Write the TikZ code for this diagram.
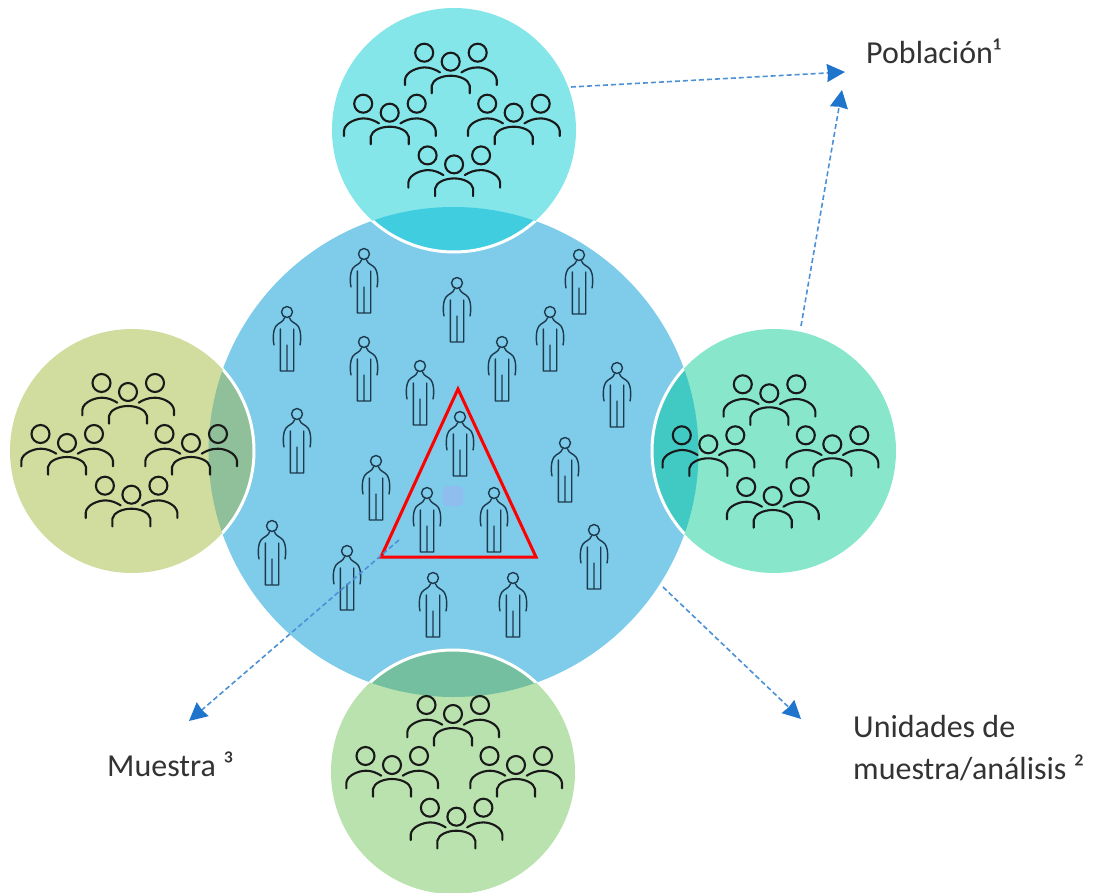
\documentclass[tikz,border=0pt]{standalone}
\usepackage{fontspec}
\usetikzlibrary{arrows.meta}
\setmainfont{Carlito}
\definecolor{bigblue}{HTML}{7FCBEA}
\definecolor{arrowblue}{HTML}{1F74CC}
\definecolor{figline}{HTML}{1D3A4C}
\definecolor{dotblue}{HTML}{8FBDF0}
\tikzset{
  smallcirc/.style={draw=white, line width=3pt},
  arrowline/.style={draw=arrowblue!80, line width=1.6pt, dash pattern=on 5pt off 3pt, -{Stealth[length=18pt, width=18pt, inset=1pt, color=arrowblue]}},
  lab/.style={font=\fontsize{32}{42}\selectfont, text=black!80, inner sep=0pt, anchor=base west, align=left},
  personfig/.pic={
    \draw[figline, line width=1.4pt, line cap=round, line join=round] (0, 0) circle (5.5)
      (-13, 33) .. controls (-14.5, 26) and (-13.5, 17) .. (-11, 14) .. controls (-9, 11) and (-4, 10.5) .. (-2.5, 6)
      (13, 33) .. controls (14.5, 26) and (13.5, 17) .. (11, 14) .. controls (9, 11) and (4, 10.5) .. (2.5, 6)
      (-6.7, 17) -- (-6.7, 59) -- (6.7, 59) -- (6.7, 17)
      (0, 33) -- (0, 59) ;
  },
  trio/.pic={
    \draw[black!90, line width=2.1pt, line cap=round] (0, 0) circle (9) (-26.5, -9) circle (9) (27, -9) circle (9)
      (-45.7, 23.3) -- (-45.7, 18) .. controls (-45, 10) and (-33, 5.7) .. (-26, 5.7) .. controls (-20, 5.7) and (-15, 8) .. (-10.7, 10.7)
      (-19, 31.7) -- (-19, 24) .. controls (-18, 18) and (-9, 14) .. (0, 14) .. controls (9, 14) and (18, 18) .. (19, 24) -- (19, 31.7)
      (10.7, 10.7) .. controls (15, 8) and (20, 5.7) .. (27, 5.7) .. controls (34, 5.7) and (45, 10) .. (46, 18) -- (46, 23.3) ;
  },
  crowd/.pic={
    \foreach \tx/\ty in {0/0, -61/51, 63/51, 3.4/102.7}
      \pic at (\tx, \ty) {trio} ;
  },
}
\begin{document}
\begin{tikzpicture}[x=1pt, y=-1pt]
  \useasboundingbox (0, 0) rectangle (1096, 893) ;
  % circles
  \coordinate (big) at (453.5, 452) ;
  \coordinate (top) at (454, 130) ;
  \coordinate (left) at (132, 451) ;
  \coordinate (right) at (774, 451) ;
  \coordinate (bottom) at (453, 772) ;
  \fill[bigblue] (big) circle (245) ;
  \foreach \c/\pale/\dark in {top/85E6EA/40CDE0, left/D1DD9E/8FC09A, right/88E6CB/41C9C3, bottom/B9E2AE/73BFA0} {
    \definecolor{palecol}{HTML}{\pale}
    \definecolor{darkcol}{HTML}{\dark}
    \fill[palecol] (\c) circle (122) ;
    \begin{scope}
      \clip (big) circle (245) ;
      \fill[darkcol] (\c) circle (122) ;
      \draw[smallcirc] (\c) circle (122) ;
    \end{scope}
  }
  % people
  \foreach \px/\py in {364/254, 579/255, 457/283, 287/312, 550/312, 364/342, 502/342, 420/366, 617/368, 460/417, 297/414, 565/443, 376/461, 427/493, 494/493, 272/526, 594/530, 347/551, 433/578, 513/578}
    \pic at (\px, \py) {personfig} ;
  % groups
  \pic at (450.7, 61.7) {crowd} ;
  \pic at (128, 392) {crowd} ;
  \pic at (769.3, 393.3) {crowd} ;
  \pic at (453, 714) {crowd} ;
  % sample
  \fill[dotblue, rounded corners=4pt] (443, 486) rectangle (463, 506) ;
  \draw[red, line width=3pt, line join=miter] (458, 389) coordinate (apex) -- (536, 557) coordinate (corner2) -- (381, 557) coordinate (corner1) -- cycle ;
  % labels
  \node[lab] (poblacion) at (866, 64) {Población¹} ;
  \node[lab] (muestra) at (107, 776) {Muestra ³} ;
  \node[lab] (unidades) at (853, 779) {Unidades de\\muestra/análisis ²} ;
  % arrows
  \coordinate (a1s) at (571, 87) ;
  \coordinate (a1e) at (845, 72) ;
  \coordinate (a2s) at (801, 326) ;
  \coordinate (a2e) at (842, 90) ;
  \coordinate (a3s) at (663, 587) ;
  \coordinate (a3e) at (801, 719) ;
  \coordinate (a4s) at (399, 540) ;
  \coordinate (a4e) at (189, 721) ;
  \draw[arrowline] (a1s) -- (a1e) ;
  \draw[arrowline] (a2s) -- (a2e) ;
  \draw[arrowline] (a3s) -- (a3e) ;
  \draw[arrowline] (a4s) -- (a4e) ;
\end{tikzpicture}
\end{document}
